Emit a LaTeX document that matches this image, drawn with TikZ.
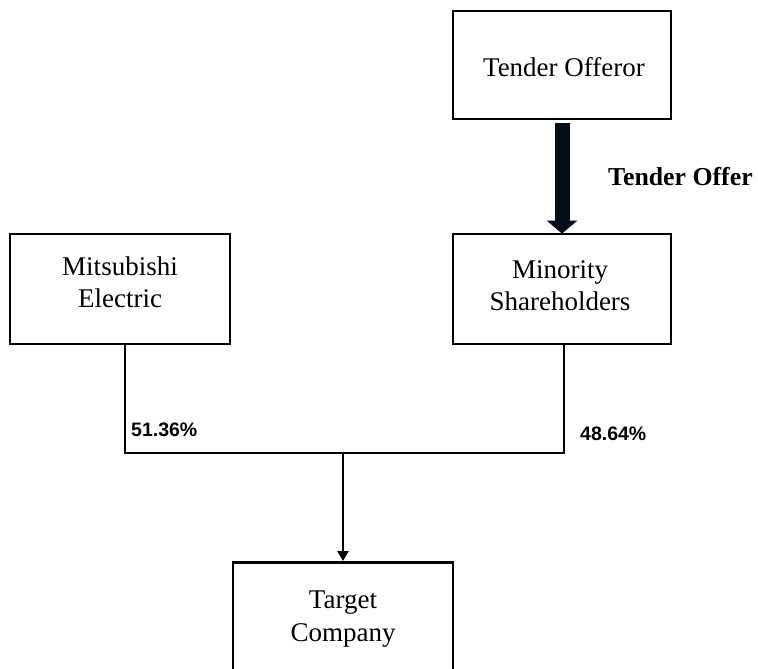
\documentclass[tikz,border=0pt]{standalone}
\usepackage{fontspec}
\setmainfont{Liberation Serif}
\newfontfamily\arialfont{Liberation Sans}
\usetikzlibrary{arrows.meta}
\definecolor{arrowdark}{RGB}{4,14,24}
\begin{document}
\begin{tikzpicture}[x=1pt,y=-1pt,
  box/.style={draw, line width=2.8pt, minimum width=218pt, minimum height=108pt, inner sep=0pt},
  boxtext/.style={align=center, inner sep=0pt, font=\fontsize{27}{32}\selectfont},
  conn/.style={line width=2.3pt, line cap=rect},
  pct/.style={font=\arialfont\bfseries\fontsize{19.5}{22}\selectfont, inner sep=0pt, anchor=west},
  offerlbl/.style={font=\bfseries\fontsize{25.8}{30}\selectfont, inner sep=0pt, anchor=west}]
\useasboundingbox (0,0) rectangle (758,669);
\fill[white] (0,0) rectangle (758,669);
\node[box] (offeror) at (562,65) {};
\node[box, minimum height=110pt] (minority) at (562,289) {};
\node[box, minimum width=220pt, minimum height=110pt] (mits) at (120,289) {};
\node[box, minimum width=220pt, minimum height=150pt, anchor=north] (target) at (343,561) {};
\node[boxtext] (offerortext) at (564,67) {Tender Offeror};
\node[boxtext] (minoritytext) at (560,286) {Minority\\Shareholders};
\node[boxtext] (mitstext) at (120,282) {Mitsubishi\\Electric};
\node[boxtext, font=\fontsize{27}{33}\selectfont] (targettext) at (343,619) {Target\\Company};
\coordinate (jl) at (125,453);
\coordinate (jr) at (564,453);
\coordinate (jm) at (343,453);
\draw[conn] (jl |- mits.south) -- (jl) -- (jr) -- (jr |- minority.south);
\draw[line width=2.3pt, -{Triangle[width=11pt,length=10pt]}] (jm) -- (target.north);
\draw[arrowdark, line width=15pt, shorten <=3pt, -{Triangle[width=30pt,length=13pt]}] (offeror.south) -- ([yshift=-1pt]minority.north);
\node[offerlbl] (offerlabel) at (608,177) {Tender Offer};
\node[pct] (pctl) at (131,430) {51.36\%};
\node[pct] (pctr) at (580,434) {48.64\%};
\end{tikzpicture}
\end{document}
